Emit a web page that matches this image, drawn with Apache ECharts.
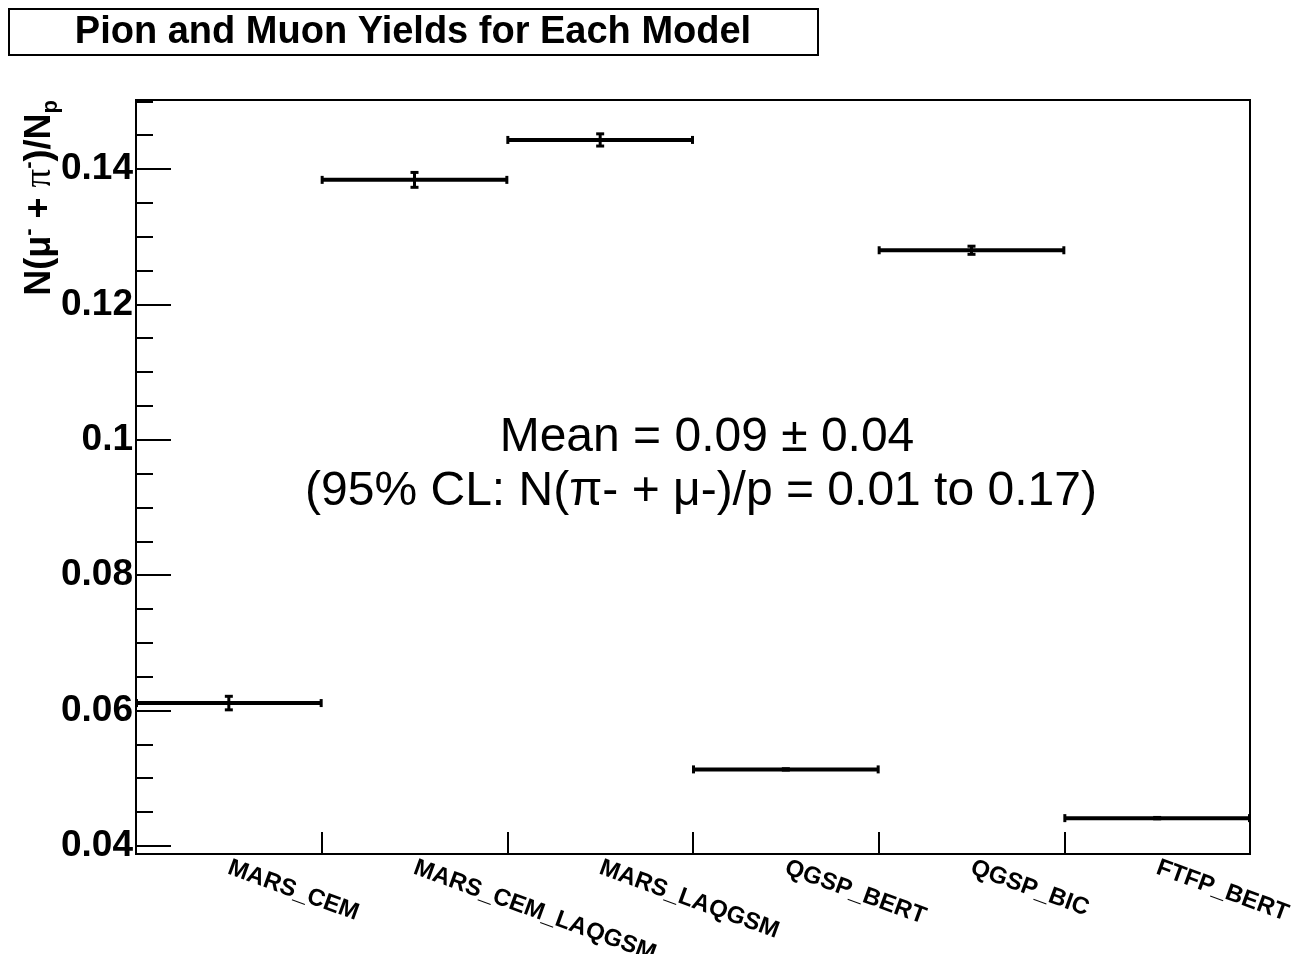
<!DOCTYPE html>
<html>
<head>
<meta charset="utf-8">
<script src="https://cdn.jsdelivr.net/npm/echarts@6/dist/echarts.min.js"></script>
<style>
  html, body { margin: 0; padding: 0; background: #fff; }
  #chart { width: 1293px; height: 954px; }
</style>
</head>
<body>
<div id="chart"></div>
<script>
// Pion + muon yield per proton, one bin per hadronic model
const categories = ['MARS_CEM', 'MARS_CEM_LAQGSM', 'MARS_LAQGSM', 'QGSP_BERT', 'QGSP_BIC', 'FTFP_BERT'];
const yields = [0.0611, 0.1384, 0.1443, 0.0513, 0.1280, 0.0441];
const yieldErrors = [0.0010, 0.0011, 0.0009, 0.0001, 0.0006, 0.0001];

// y axis range and tick positions
const yRange = [0.0388, 0.1502];
const yMajorTicks = [0.04, 0.06, 0.08, 0.10, 0.12, 0.14];
const yMinorTicks = [0.045, 0.05, 0.055, 0.065, 0.07, 0.075, 0.085, 0.09, 0.095,
                     0.105, 0.11, 0.115, 0.125, 0.13, 0.135, 0.145, 0.15];

const titleText = 'Pion and Muon Yields for Each Model';
const meanLines = ['Mean = 0.09 \u00b1 0.04', '(95% CL: N(\u03c0- + \u03bc-)/p = 0.01 to 0.17)'];

const seriesData = categories.map((c, i) => [i, yields[i], yieldErrors[i]]);

const FONT = '"Liberation Sans", Arial, Helvetica, sans-serif';
const INK = '#000';

// one histogram bin: horizontal bin-width bar with end caps, plus vertical error bar
function renderBin(params, api) {
  const idx = api.value(0);
  const v = api.value(1);
  const e = api.value(2);
  const c = api.coord([idx, v]);
  const w = api.size([1, 0])[0];
  const x0 = c[0] - w / 2;
  const x1 = c[0] + w / 2;
  const yTop = api.coord([idx, v + e])[1];
  const yBot = api.coord([idx, v - e])[1];
  return {
    type: 'group',
    children: [
      { type: 'line', shape: { x1: x0, y1: c[1], x2: x1, y2: c[1] }, style: { stroke: INK, lineWidth: 4 } },
      { type: 'rect', shape: { x: x0 - 1, y: c[1] - 4, width: 3, height: 8 }, style: { fill: INK } },
      { type: 'rect', shape: { x: x1 - 2, y: c[1] - 4, width: 3, height: 8 }, style: { fill: INK } },
      { type: 'line', shape: { x1: c[0], y1: yTop, x2: c[0], y2: yBot }, style: { stroke: INK, lineWidth: 3 } },
      { type: 'rect', shape: { x: c[0] - 4, y: yTop - 1.5, width: 8, height: 3 }, style: { fill: INK } },
      { type: 'rect', shape: { x: c[0] - 4, y: yBot - 1.5, width: 8, height: 3 }, style: { fill: INK } }
    ]
  };
}

const chart = echarts.init(document.getElementById('chart'), null, { renderer: 'canvas' });

chart.setOption({
  backgroundColor: '#fff',
  animation: false,
  grid: {
    left: 136, right: 43, top: 100, bottom: 100,
    outerBoundsMode: 'none', containLabel: false,
    show: true, borderColor: INK, borderWidth: 2, backgroundColor: 'transparent'
  },
  xAxis: {
    type: 'category',
    data: categories,
    boundaryGap: true,
    axisLine: { show: true, lineStyle: { color: INK, width: 2 } },
    axisTick: { show: true, inside: true, length: 22, lineStyle: { color: INK, width: 2 } },
    axisLabel: {
      rotate: -20, margin: 13, color: INK,
      fontFamily: FONT, fontWeight: 'bold', fontSize: 24, interval: 0
    },
    splitLine: { show: false }
  },
  yAxis: [
    {
      type: 'value', position: 'left',
      min: yRange[0], max: yRange[1],
      axisLine: { show: true, lineStyle: { color: INK, width: 2 } },
      axisTick: { show: true, inside: true, length: 35, customValues: yMajorTicks, lineStyle: { color: INK, width: 2 } },
      axisLabel: {
        customValues: yMajorTicks, margin: 3, color: INK,
        fontFamily: FONT, fontWeight: 'bold', fontSize: 37,
        formatter: v => String(+(+v).toFixed(2))
      },
      splitLine: { show: false }
    },
    {
      type: 'value', position: 'left',
      min: yRange[0], max: yRange[1],
      axisLine: { show: false },
      axisTick: { show: true, inside: true, length: 17, customValues: yMinorTicks, lineStyle: { color: INK, width: 2 } },
      axisLabel: { show: false },
      splitLine: { show: false }
    }
  ],
  series: [{
    type: 'custom',
    renderItem: renderBin,
    data: seriesData,
    encode: { x: 0, y: 1 },
    clip: false,
    z: 5
  }],
  graphic: [
    {
      type: 'rect',
      shape: { x: 9, y: 9, width: 809, height: 46 },
      style: { fill: '#fff', stroke: INK, lineWidth: 2 },
      z: 10
    },
    {
      type: 'text', x: 413, y: 33, z: 11,
      style: {
        text: titleText, fill: INK,
        fontFamily: FONT, fontWeight: 'bold', fontSize: 38,
        align: 'center', verticalAlign: 'middle'
      }
    },
    {
      type: 'text', x: 40, y: 100, rotation: Math.PI / 2, z: 11,
      style: {
        text: '{b|N(\u03bc}{sup|-}{b| + }{pi|\u03c0}{sup|-}{b|)/N}{sub|p}',
        align: 'right', verticalAlign: 'middle',
        rich: {
          b: { fontFamily: FONT, fontWeight: 'bold', fontSize: 36, fill: INK, lineHeight: 44, verticalAlign: 'middle' },
          pi: { fontFamily: '"Liberation Serif", serif', fontSize: 37, fill: INK, lineHeight: 44, verticalAlign: 'middle' },
          sup: { fontFamily: FONT, fontWeight: 'bold', fontSize: 22, fill: INK, lineHeight: 20, verticalAlign: 'top' },
          sub: { fontFamily: FONT, fontWeight: 'bold', fontSize: 22, fill: INK, lineHeight: 20, verticalAlign: 'bottom' }
        }
      }
    },
    {
      type: 'text', x: 707, y: 438, z: 11,
      style: {
        text: meanLines[0], fill: INK,
        fontFamily: FONT, fontSize: 48,
        align: 'center', verticalAlign: 'middle'
      }
    },
    {
      type: 'text', x: 701, y: 492, z: 11,
      style: {
        text: meanLines[1], fill: INK,
        fontFamily: FONT, fontSize: 48,
        align: 'center', verticalAlign: 'middle'
      }
    }
  ]
});
</script>
</body>
</html>
